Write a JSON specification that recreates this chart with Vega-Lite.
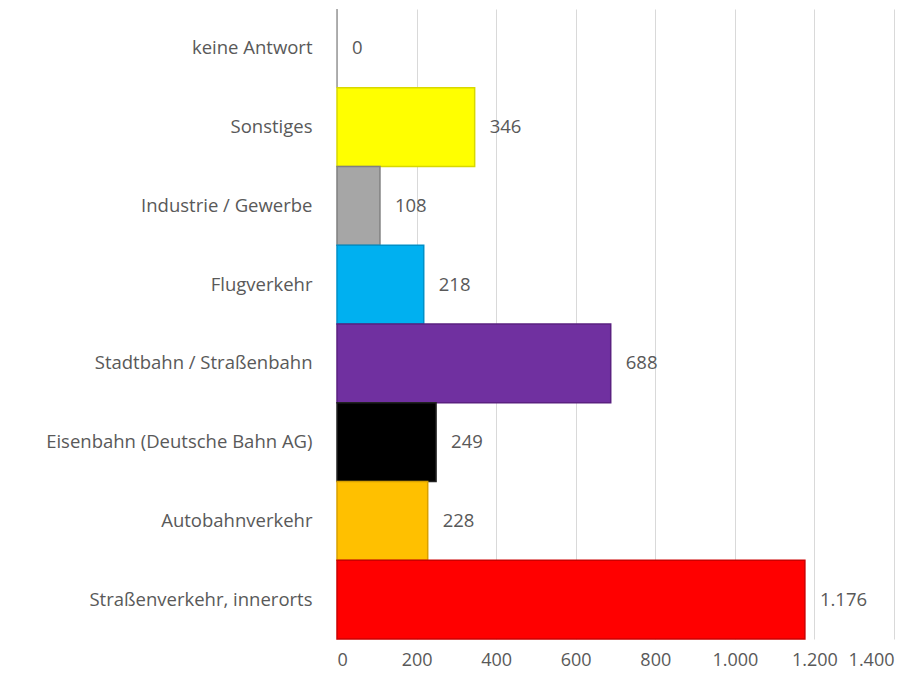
{
  "$schema": "https://vega.github.io/schema/vega-lite/v6.json",
  "width": 557,
  "height": 630,
  "autosize": "none",
  "padding": {"left": 337, "top": 9, "right": 28, "bottom": 40},
  "background": "white",
  "config": {
    "view": {"stroke": null},
    "locale": {"number": {"decimal": ",", "thousands": ".", "grouping": [3], "currency": ["", " €"]}},
    "font": "Open Sans"
  },
  "data": {
    "values": [
      {"Kategorie": "keine Antwort", "Anzahl": 0},
      {"Kategorie": "Sonstiges", "Anzahl": 346},
      {"Kategorie": "Industrie / Gewerbe", "Anzahl": 108},
      {"Kategorie": "Flugverkehr", "Anzahl": 218},
      {"Kategorie": "Stadtbahn / Straßenbahn", "Anzahl": 688},
      {"Kategorie": "Eisenbahn (Deutsche Bahn AG)", "Anzahl": 249},
      {"Kategorie": "Autobahnverkehr", "Anzahl": 228},
      {"Kategorie": "Straßenverkehr, innerorts", "Anzahl": 1176}
    ]
  },
  "encoding": {
    "y": {
      "field": "Kategorie",
      "type": "nominal",
      "sort": null,
      "scale": {"paddingInner": 0, "paddingOuter": 0},
      "axis": {
        "title": null,
        "ticks": false,
        "domain": false,
        "labelPadding": 25,
        "labelFontSize": 18.5,
        "labelColor": "#595959",
        "labelLimit": 400
      }
    },
    "x": {
      "field": "Anzahl",
      "type": "quantitative",
      "scale": {"domain": [0, 1400], "nice": false},
      "axis": {
        "title": null,
        "values": [0, 200, 400, 600, 800, 1000, 1200, 1400],
        "format": ",d",
        "ticks": false,
        "domain": false,
        "grid": true,
        "gridColor": "#d9d9d9",
        "labelPadding": 12,
        "labelFontSize": 18,
        "labelOverlap": false,
        "labelColor": "#595959"
      }
    }
  },
  "layer": [
    {
      "mark": {"type": "bar", "strokeWidth": 1.5},
      "encoding": {
        "fill": {
          "field": "Kategorie",
          "type": "nominal",
          "legend": null,
          "scale": {
            "domain": ["keine Antwort", "Sonstiges", "Industrie / Gewerbe", "Flugverkehr", "Stadtbahn / Straßenbahn", "Eisenbahn (Deutsche Bahn AG)", "Autobahnverkehr", "Straßenverkehr, innerorts"],
            "range": ["#c0c0c0", "#ffff00", "#a6a6a6", "#00b0f0", "#7030a0", "#000000", "#ffc000", "#ff0000"]
          }
        },
        "stroke": {
          "field": "Kategorie",
          "type": "nominal",
          "legend": null,
          "scale": {
            "domain": ["keine Antwort", "Sonstiges", "Industrie / Gewerbe", "Flugverkehr", "Stadtbahn / Straßenbahn", "Eisenbahn (Deutsche Bahn AG)", "Autobahnverkehr", "Straßenverkehr, innerorts"],
            "range": ["#999999", "#d8d800", "#808080", "#0090c8", "#5a2080", "#222222", "#d8a000", "#cc0000"]
          }
        }
      }
    },
    {
      "mark": {"type": "text", "align": "left", "dx": 15, "fontSize": 18.5, "color": "#595959"},
      "encoding": {
        "text": {"field": "Anzahl", "type": "quantitative", "format": ",d"}
      }
    }
  ]
}
